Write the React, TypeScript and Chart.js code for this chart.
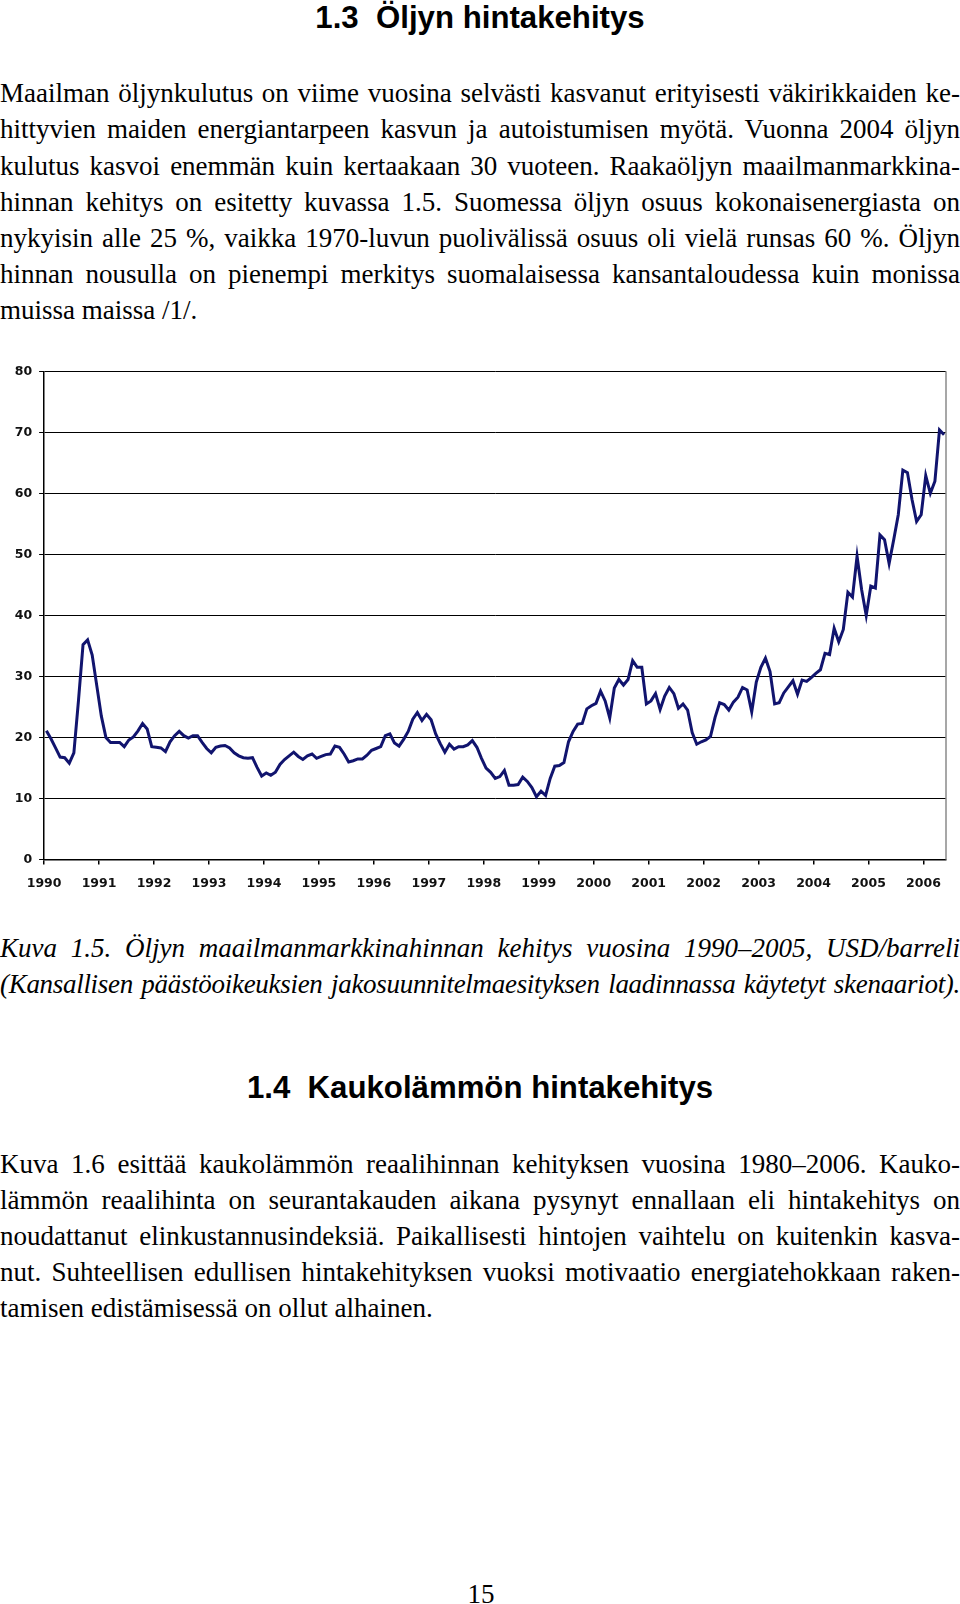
import React, { useEffect, useRef } from "react";
import { Chart, registerables } from "chart.js";

Chart.register(...registerables);

// ---- data (monthly crude oil price, USD/barrel) ----
const startYear = 1990;
const yearTicks = [1990, 1991, 1992, 1993, 1994, 1995, 1996, 1997, 1998, 1999, 2000, 2001, 2002, 2003, 2004, 2005, 2006];
const valueTicks = [0, 10, 20, 30, 40, 50, 60, 70, 80];

const prices1990 = [21.1, 19.8, 18.3, 16.8, 16.7, 15.8, 17.5, 26.0, 35.2, 36.0, 33.5, 28.5];
const prices1991 = [23.5, 20.0, 19.2, 19.2, 19.2, 18.5, 19.6, 20.1, 21.1, 22.3, 21.4, 18.5];
const prices1992 = [18.4, 18.3, 17.7, 19.3, 20.3, 21.0, 20.3, 19.9, 20.3, 20.3, 19.2, 18.2];
const prices1993 = [17.5, 18.4, 18.6, 18.7, 18.3, 17.5, 17.0, 16.7, 16.6, 16.7, 15.1, 13.7];
const prices1994 = [14.2, 13.8, 14.3, 15.6, 16.4, 17.0, 17.6, 16.9, 16.4, 17.0, 17.3, 16.6];
const prices1995 = [16.9, 17.2, 17.3, 18.6, 18.4, 17.3, 16.0, 16.2, 16.5, 16.5, 17.1, 17.9];
const prices1996 = [18.2, 18.5, 20.3, 20.6, 19.1, 18.6, 19.7, 21.0, 23.0, 24.1, 22.8, 23.8];
const prices1997 = [22.9, 20.6, 19.0, 17.6, 18.9, 18.1, 18.5, 18.5, 18.8, 19.5, 18.4, 16.6];
const prices1998 = [15.0, 14.3, 13.3, 13.6, 14.6, 12.2, 12.2, 12.3, 13.5, 12.8, 11.8, 10.3];
const prices1999 = [11.2, 10.5, 13.3, 15.3, 15.4, 15.9, 19.3, 21.0, 22.2, 22.3, 24.7, 25.2];
const prices2000 = [25.6, 27.6, 26.0, 23.2, 28.1, 29.5, 28.6, 29.5, 32.6, 31.5, 31.5, 25.5];
const prices2001 = [26.0, 27.2, 24.6, 26.8, 28.2, 27.2, 24.8, 25.5, 24.5, 20.8, 18.9, 19.3];
const prices2002 = [19.6, 20.2, 23.3, 25.7, 25.4, 24.5, 25.8, 26.6, 28.2, 27.8, 24.2, 29.1];
const prices2003 = [31.5, 33.0, 30.8, 25.5, 25.7, 27.3, 28.3, 29.3, 27.1, 29.4, 29.2, 29.8];
const prices2004 = [30.5, 31.1, 33.8, 33.6, 37.9, 35.7, 37.7, 43.8, 43.0, 49.7, 44.2, 40.0];
const prices2005 = [44.8, 44.5, 53.2, 52.4, 48.5, 52.4, 56.5, 63.8, 63.4, 59.0, 55.4, 56.5];
const prices2006 = [62.9, 60.0, 62.0, 70.4, 69.6];

const monthlyPrices = [
  ...prices1990, ...prices1991, ...prices1992, ...prices1993, ...prices1994, ...prices1995,
  ...prices1996, ...prices1997, ...prices1998, ...prices1999, ...prices2000, ...prices2001,
  ...prices2002, ...prices2003, ...prices2004, ...prices2005, ...prices2006,
];

// ---- text ----
const para1 = [
  "Maailman öljynkulutus on viime vuosina selvästi kasvanut erityisesti väkirikkaiden ke-",
  "hittyvien maiden energiantarpeen kasvun ja autoistumisen myötä. Vuonna 2004 öljyn",
  "kulutus kasvoi enemmän kuin kertaakaan 30 vuoteen. Raakaöljyn maailmanmarkkina-",
  "hinnan kehitys on esitetty kuvassa 1.5. Suomessa öljyn osuus kokonaisenergiasta on",
  "nykyisin alle 25 %, vaikka 1970-luvun puolivälissä osuus oli vielä runsas 60 %. Öljyn",
  "hinnan nousulla on pienempi merkitys suomalaisessa kansantaloudessa kuin monissa",
  "muissa maissa /1/.",
];
const caption = [
  "Kuva 1.5. Öljyn maailmanmarkkinahinnan kehitys vuosina 1990–2005, USD/barreli",
  "(Kansallisen päästöoikeuksien jakosuunnitelmaesityksen laadinnassa käytetyt skenaariot).",
];
const para2 = [
  "Kuva 1.6 esittää kaukolämmön reaalihinnan kehityksen vuosina 1980–2006. Kauko-",
  "lämmön reaalihinta on seurantakauden aikana pysynyt ennallaan eli hintakehitys on",
  "noudattanut elinkustannusindeksiä. Paikallisesti hintojen vaihtelu on kuitenkin kasva-",
  "nut. Suhteellisen edullisen hintakehityksen vuoksi motivaatio energiatehokkaan raken-",
  "tamisen edistämisessä on ollut alhainen.",
];

const SERIF = '"Liberation Serif", "Times New Roman", serif';
const SANS = '"Liberation Sans", Arial, sans-serif';
const LINE_H = 36.1;
const FS = 27;

function TextLine(props: {
  y: number;
  text: string;
  last?: boolean;
  italic?: boolean;
  wordSpacing?: string;
  letterSpacing?: string;
}) {
  return (
    <div
      style={{
        position: "absolute",
        left: 0,
        width: 960,
        top: props.y - 18,
        height: 36,
        lineHeight: "36px",
        fontFamily: SERIF,
        fontSize: FS,
        fontStyle: props.italic ? "italic" : "normal",
        color: "#000",
        textAlign: "justify",
        textAlignLast: props.last ? "left" : "justify",
        wordSpacing: props.wordSpacing,
        letterSpacing: props.letterSpacing,
      } as React.CSSProperties}
    >
      {props.text}
    </div>
  );
}

function Heading(props: { y: number; text: string }) {
  return (
    <div
      style={{
        position: "absolute",
        left: 0,
        width: 960,
        top: props.y - 20,
        height: 40,
        lineHeight: "40px",
        fontFamily: SANS,
        fontWeight: "bold",
        fontSize: 31.2,
        textAlign: "center",
        color: "#000",
        whiteSpace: "pre",
      }}
    >
      {props.text}
    </div>
  );
}

const rightFrame = {
  id: "rightFrame",
  afterDraw(chart: any) {
    const { ctx, chartArea } = chart;
    ctx.save();
    ctx.strokeStyle = "#8a8a8a";
    ctx.lineWidth = 1.5;
    ctx.beginPath();
    ctx.moveTo(chartArea.right, chartArea.top);
    ctx.lineTo(chartArea.right, chartArea.bottom);
    ctx.stroke();
    ctx.restore();
  },
};

function OilChart() {
  const ref = useRef<HTMLCanvasElement | null>(null);
  useEffect(() => {
    if (!ref.current) return;
    const points = monthlyPrices.map((v, i) => ({ x: startYear + (i + 0.5) / 12, y: v }));
    const tickFont = { family: '"DejaVu Sans", Verdana, sans-serif', weight: "bold" as const, size: 12.5 };
    const chart = new Chart(ref.current, {
      type: "line",
      data: {
        datasets: [
          {
            data: points,
            borderColor: "#11146e",
            borderWidth: 3,
            pointRadius: 0,
            tension: 0,
            fill: false,
          },
        ],
      },
      options: {
        animation: false,
        responsive: false,
        maintainAspectRatio: false,
        layout: { padding: { top: 21.3, right: 14, bottom: 0, left: 0 } },
        plugins: { legend: { display: false }, tooltip: { enabled: false } },
        scales: {
          x: {
            type: "linear",
            min: yearTicks[0],
            max: 2006.41,
            afterBuildTicks: (s: any) => {
              s.ticks = yearTicks.map((v) => ({ value: v }));
            },
            afterFit: (s: any) => {
              s.height = 50.4;
            },
            ticks: {
              callback: (v: any) => String(v),
              font: tickFont,
              color: "#111",
              padding: 12,
              maxRotation: 0,
              autoSkip: false,
            },
            grid: { drawOnChartArea: false, drawTicks: true, tickLength: 5, color: "#000", lineWidth: 1.5 },
            border: { display: true, color: "#000", width: 1.5 },
          },
          y: {
            min: valueTicks[0],
            max: valueTicks[valueTicks.length - 1],
            afterBuildTicks: (s: any) => {
              s.ticks = valueTicks.map((v) => ({ value: v }));
            },
            afterFit: (s: any) => {
              s.width = 44.1;
            },
            ticks: { font: tickFont, color: "#111", padding: 7 },
            grid: { color: "#000", lineWidth: 1, drawTicks: true, tickLength: 5 },
            border: { display: true, color: "#000", width: 1.5 },
          },
        },
      },
      plugins: [rightFrame],
    });
    return () => chart.destroy();
  }, []);
  return (
    <canvas
      ref={ref}
      width={960}
      height={560}
      style={{ position: "absolute", left: 0, top: 350, width: 960, height: 560 }}
    />
  );
}

export default function App() {
  return (
    <div style={{ position: "relative", width: 960, height: 1604, background: "#fff", overflow: "hidden" }}>
      <style>{"body{margin:0;background:#fff}"}</style>
      <Heading y={18.4} text={"1.3  Öljyn hintakehitys"} />
      {para1.map((t, i) => (
        <TextLine key={"p1" + i} y={93.3 + i * LINE_H} text={t} last={i === para1.length - 1} />
      ))}
      <OilChart />
      <TextLine y={947.8} text={caption[0]} italic />
      <TextLine y={983.6} text={caption[1]} italic wordSpacing="-1px" letterSpacing="-0.3px" />
      <Heading y={1088} text={"1.4  Kaukolämmön hintakehitys"} />
      {para2.map((t, i) => (
        <TextLine key={"p2" + i} y={1163.7 + i * LINE_H} text={t} last={i === para2.length - 1} />
      ))}
      <div
        style={{
          position: "absolute",
          left: 0,
          width: 962,
          top: 1593.7 - 18,
          height: 36,
          lineHeight: "36px",
          fontFamily: SERIF,
          fontSize: FS,
          textAlign: "center",
        }}
      >
        15
      </div>
    </div>
  );
}
